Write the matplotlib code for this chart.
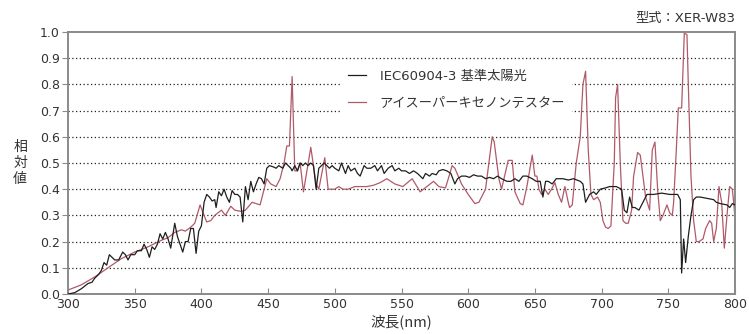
import matplotlib
matplotlib.use('Agg')
from matplotlib import pyplot as plt

plt.rcParams['font.family'] = ['Noto Sans CJK JP', 'DejaVu Sans']

# IEC60904-3 reference sunlight (black)
iec_nm = [300, 305, 310, 315, 318, 320, 323, 325, 327, 329, 331, 333, 335, 338, 341, 343,
          345, 347, 350, 352, 355, 357, 359, 361, 363, 365, 367, 369, 371, 373, 375, 377,
          380, 382, 384, 386, 388, 390, 392, 394, 396, 398, 400, 402, 404, 406, 408, 410,
          411, 413, 415, 417, 419, 421, 423, 425, 427, 429, 431, 433, 435, 437, 439, 441,
          443, 445, 447, 449, 451, 454, 456, 458, 461, 463, 465, 467, 468, 470, 472, 474,
          476, 478, 480, 482, 484, 486, 488, 490, 492, 494, 496, 498, 500, 503, 505, 508,
          510, 512, 515, 517, 519, 522, 524, 527, 530, 532, 535, 537, 540, 543, 545, 548,
          550, 553, 556, 559, 562, 564, 566, 568, 571, 573, 576, 578, 581, 584, 587, 590,
          592, 595, 598, 601, 604, 607, 610, 613, 616, 619, 622, 625, 629, 632, 635, 638,
          641, 644, 648, 651, 654, 656, 658, 660, 663, 666, 671, 675, 679, 684, 686, 688,
          691, 694, 696, 699, 703, 706, 711, 715, 717, 719, 721, 723, 725, 728, 730, 732,
          734, 739, 745, 751, 757, 759, 760, 761.5, 763, 765, 767, 769, 771, 774, 779, 784,
          786, 789, 794, 796, 798, 800]
iec_val = [0.0, 0.005, 0.02, 0.04, 0.045, 0.06, 0.075, 0.09, 0.12, 0.11, 0.15, 0.14, 0.13, 0.13, 0.16, 0.15,
           0.13, 0.15, 0.15, 0.165, 0.165, 0.19, 0.17, 0.14, 0.18, 0.17, 0.19, 0.23, 0.21, 0.235, 0.21, 0.175,
           0.27, 0.22, 0.19, 0.16, 0.2, 0.2, 0.25, 0.25, 0.155, 0.24, 0.26, 0.35, 0.38, 0.37, 0.355, 0.36,
           0.33, 0.39, 0.375, 0.40, 0.37, 0.35, 0.395, 0.38, 0.38, 0.37, 0.275, 0.41, 0.36, 0.43, 0.39, 0.42,
           0.445, 0.44, 0.42, 0.48, 0.49, 0.485, 0.48, 0.49, 0.48, 0.50, 0.49, 0.48, 0.47, 0.49, 0.47, 0.50,
           0.49, 0.50, 0.49, 0.50, 0.49, 0.40, 0.48, 0.49, 0.50, 0.49, 0.48, 0.49, 0.48, 0.47, 0.50, 0.46,
           0.49, 0.47, 0.48, 0.46, 0.45, 0.49, 0.48, 0.48, 0.49, 0.47, 0.49, 0.46, 0.48, 0.49, 0.47, 0.48,
           0.47, 0.47, 0.46, 0.47, 0.46, 0.45, 0.44, 0.46, 0.45, 0.46, 0.455, 0.47, 0.475, 0.47, 0.46, 0.42,
           0.44, 0.45, 0.45, 0.445, 0.455, 0.45, 0.45, 0.44, 0.445, 0.44, 0.45, 0.44, 0.43, 0.43, 0.44, 0.43,
           0.45, 0.45, 0.44, 0.43, 0.43, 0.37, 0.43, 0.43, 0.42, 0.44, 0.44, 0.435, 0.44, 0.43, 0.42, 0.35,
           0.38, 0.39, 0.38, 0.40, 0.405, 0.41, 0.41, 0.40, 0.32, 0.31, 0.37, 0.33, 0.33, 0.32, 0.34, 0.36,
           0.38, 0.38, 0.385, 0.38, 0.38, 0.36, 0.08, 0.21, 0.12, 0.22, 0.30, 0.36, 0.37, 0.37, 0.365, 0.36,
           0.35, 0.345, 0.34, 0.33, 0.345, 0.34]

# I-Super xenon tester (pink)
xenon_nm = [300, 310, 320, 330, 340, 350, 360, 370, 375, 380, 385, 388, 392, 395, 399, 402,
            404, 407, 410, 415, 418, 422, 425, 430, 433, 438, 444, 449, 452, 456, 459, 462,
            464, 466, 468, 470, 472, 474, 476.5, 482, 486, 488, 492.5, 495, 500, 503, 506, 510,
            515, 519, 524, 529, 534, 539, 545, 551, 558, 564, 569, 574, 578, 583, 588, 590,
            595, 600, 605, 608, 613, 618, 619.5, 623, 625, 630, 633, 635, 639, 641, 644, 648,
            650, 651.5, 653, 655, 657.5, 660, 662.5, 665, 667.5, 670, 672.5, 675, 676, 678, 681, 684,
            686, 688, 690, 692, 694, 697, 699, 701, 703, 705, 707, 709.5, 710.5, 712, 714, 716,
            718, 720, 722.5, 724, 727, 729, 731, 733, 736, 738, 740, 742, 744, 746, 749, 751,
            753, 754, 756, 757.5, 760, 762, 764, 765, 767, 769, 771, 773, 776, 778, 781, 782.5,
            784, 786, 788, 790, 792, 794, 796, 798, 799, 800]
xenon_val = [0.015, 0.035, 0.065, 0.10, 0.135, 0.16, 0.18, 0.205, 0.215, 0.235, 0.245, 0.24, 0.255, 0.27, 0.34, 0.30,
             0.275, 0.28, 0.30, 0.32, 0.30, 0.335, 0.32, 0.315, 0.32, 0.35, 0.34, 0.44, 0.42, 0.41, 0.44, 0.50,
             0.565, 0.565, 0.83, 0.47, 0.47, 0.50, 0.39, 0.56, 0.42, 0.40, 0.52, 0.40, 0.40, 0.41, 0.40, 0.40,
             0.41, 0.41, 0.41, 0.415, 0.425, 0.44, 0.42, 0.41, 0.44, 0.39, 0.41, 0.43, 0.41, 0.405, 0.49, 0.48,
             0.42, 0.38, 0.345, 0.35, 0.40, 0.60, 0.58, 0.44, 0.40, 0.51, 0.51, 0.39, 0.345, 0.34, 0.41, 0.53,
             0.45, 0.45, 0.40, 0.38, 0.40, 0.38, 0.40, 0.425, 0.38, 0.35, 0.41, 0.35, 0.33, 0.34, 0.50, 0.60,
             0.80, 0.85, 0.55, 0.38, 0.36, 0.37, 0.35, 0.28, 0.255, 0.25, 0.26, 0.50, 0.75, 0.80, 0.50, 0.28,
             0.27, 0.27, 0.32, 0.45, 0.54, 0.53, 0.45, 0.37, 0.32, 0.55, 0.58, 0.40, 0.28, 0.30, 0.34, 0.31,
             0.30, 0.35, 0.55, 0.71, 0.71, 0.995, 0.99, 0.80, 0.45, 0.28, 0.20, 0.20, 0.21, 0.25, 0.28, 0.27,
             0.20, 0.25, 0.41, 0.35, 0.175, 0.30, 0.41, 0.40, 0.35, 0.29]

x_ticks = [300, 350, 400, 450, 500, 550, 600, 650, 700, 750, 800]
y_ticks = [0.0, 0.1, 0.2, 0.3, 0.4, 0.5, 0.6, 0.7, 0.8, 0.9, 1.0]

latin_first = ['DejaVu Sans', 'Noto Sans CJK JP']

fig = plt.figure(figsize=(7.49, 3.34), dpi=100)
ax = fig.add_axes([0.0908, 0.1198, 0.8905, 0.7844])

ax.plot(iec_nm, iec_val, color='#1e1e1e', lw=0.9, label='IEC60904-3 基準太陽光', zorder=3)
ax.plot(xenon_nm, xenon_val, color='#b05a68', lw=0.9, label='アイスーパーキセノンテスター', zorder=2)

ax.set_xlim(300, 800)
ax.set_ylim(0, 1.0)
ax.set_xticks(x_ticks)
ax.set_yticks(y_ticks)
ax.set_yticklabels([f'{v:.1f}' for v in y_ticks])

for v in y_ticks[1:-1]:
    ax.axhline(v, color='#222222', lw=0.9, ls=(0, (1, 2)), zorder=1)

for s in ax.spines.values():
    s.set_color('#8a8a8a')
    s.set_linewidth(1.4)

ax.tick_params(axis='x', direction='in', length=4, color='#8a8a8a', labelsize=9,
               labelcolor='#333333', pad=3, labelfontfamily='DejaVu Sans')
ax.tick_params(axis='y', direction='out', length=4, color='#8a8a8a', labelsize=9,
               labelcolor='#333333', pad=2, labelfontfamily='DejaVu Sans')

ax.set_xlabel('波長(nm)', fontsize=10.5, color='#333333', labelpad=2)
fig.text(20 / 749, 1 - 163 / 334, '相\n対\n値', fontsize=10, color='#333333',
         ha='center', va='center', linespacing=1.15)
ax.set_title('型式：XER-W83', loc='right', fontsize=9.5, color='#333333', pad=7,
             family=latin_first)

leg = ax.legend(loc='upper left', bbox_to_anchor=(0.40, 0.905), fontsize=9.5,
                frameon=True, fancybox=False, handlelength=1.4, handletextpad=1.0,
                labelspacing=1.05, borderpad=0.5)
leg.get_frame().set_facecolor('white')
leg.get_frame().set_edgecolor('none')
leg.get_frame().set_alpha(1.0)
for t in leg.get_texts():
    t.set_color('#333333')
leg.get_texts()[0].set_family(latin_first)

fig.savefig('out.png', dpi=100)
